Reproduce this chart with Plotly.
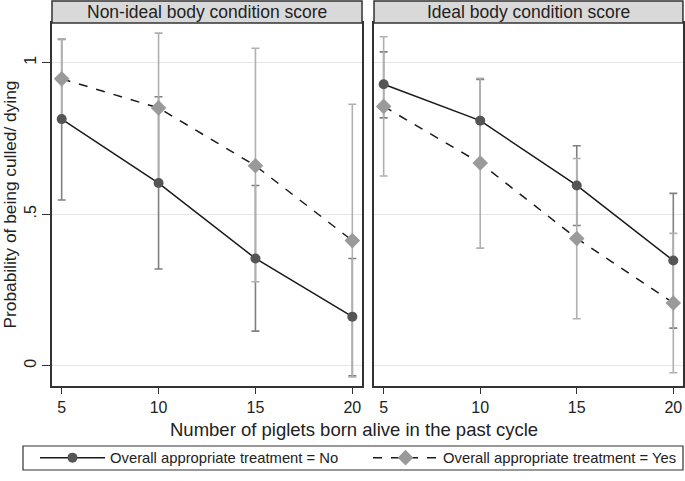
import plotly.graph_objects as go

x_vals = [5, 10, 15, 20]
panels = ["Non-ideal body condition score", "Ideal body condition score"]

# Non-ideal BCS
no_nonideal = [0.814, 0.603, 0.354, 0.162]
no_nonideal_lo = [0.547, 0.319, 0.114, -0.033]
no_nonideal_hi = [1.077, 0.888, 0.595, 0.354]
yes_nonideal = [0.947, 0.851, 0.660, 0.413]
yes_nonideal_lo = [0.815, 0.604, 0.277, -0.037]
yes_nonideal_hi = [1.079, 1.098, 1.048, 0.863]

# Ideal BCS
no_ideal = [0.929, 0.809, 0.595, 0.347]
no_ideal_lo = [0.818, 0.672, 0.463, 0.124]
no_ideal_hi = [1.036, 0.945, 0.726, 0.569]
yes_ideal = [0.856, 0.669, 0.420, 0.207]
yes_ideal_lo = [0.626, 0.388, 0.155, -0.023]
yes_ideal_hi = [1.086, 0.949, 0.684, 0.437]

y_tickvals = [0, 0.5, 1]
y_ticktext = ["0", ".5", "1"]
x_tickvals = [5, 10, 15, 20]

series_names = ["Overall appropriate treatment = No", "Overall appropriate treatment = Yes"]

FONT = "Liberation Sans, Arial, sans-serif"
NO_MARK = "#555555"
YES_MARK = "#9a9a9a"
NO_CI = "#808080"
YES_CI = "#b0b0b0"
LINE = "#1a1a1a"
TXT = "#222222"

fig = go.Figure()

data = [
    ("x", "y", no_nonideal, no_nonideal_lo, no_nonideal_hi, yes_nonideal, yes_nonideal_lo, yes_nonideal_hi),
    ("x2", "y2", no_ideal, no_ideal_lo, no_ideal_hi, yes_ideal, yes_ideal_lo, yes_ideal_hi),
]

for i, (xa, ya, no, nlo, nhi, yes, ylo, yhi) in enumerate(data):
    # CI bars (No first, then Yes on top)
    for vals, lo, hi, col in [(no, nlo, nhi, NO_CI), (yes, ylo, yhi, YES_CI)]:
        fig.add_trace(go.Scatter(
            x=x_vals, y=vals, mode="markers", xaxis=xa, yaxis=ya,
            marker=dict(size=1, opacity=0),
            error_y=dict(type="data", symmetric=False,
                         array=[h - v for h, v in zip(hi, vals)],
                         arrayminus=[v - l for v, l in zip(vals, lo)],
                         color=col, thickness=1.6, width=4),
            showlegend=False, hoverinfo="skip"))
    fig.add_trace(go.Scatter(
        x=x_vals, y=no, mode="lines+markers", xaxis=xa, yaxis=ya,
        line=dict(color=LINE, width=1.5),
        marker=dict(symbol="circle", size=10, color=NO_MARK),
        name=series_names[0], showlegend=(i == 0), legend="legend"))
    fig.add_trace(go.Scatter(
        x=x_vals, y=yes, mode="lines+markers", xaxis=xa, yaxis=ya,
        line=dict(color=LINE, width=1.5, dash="dash"),
        marker=dict(symbol="diamond", size=12, color=YES_MARK),
        name=series_names[1], showlegend=(i == 0), legend="legend2"))

axis_common = dict(
    range=[4.5, 20.5], tickvals=x_tickvals, ticks="outside", ticklen=6,
    tickcolor="#333333", tickwidth=1, showline=True, linecolor="#333333",
    linewidth=1.5, mirror=True, showgrid=False, zeroline=False,
    tickfont=dict(family=FONT, size=16, color=TXT),
)
yaxis_common = dict(
    range=[-0.067, 1.131], tickvals=y_tickvals, showline=True,
    linecolor="#333333", linewidth=1.5, mirror=True, showgrid=True,
    gridcolor="#e6e6e6", gridwidth=1, zeroline=False,
    domain=[0.1975, 0.952],
)

legend_common = dict(orientation="h", xanchor="left", y=0.0478, yanchor="middle",
                     font=dict(family=FONT, size=14.8, color=TXT),
                     bgcolor="rgba(0,0,0,0)", itemwidth=65)

fig.update_layout(
    width=685, height=481,
    margin=dict(l=0, r=0, t=0, b=0),
    paper_bgcolor="white", plot_bgcolor="white",
    font=dict(family=FONT, color=TXT),
    xaxis=dict(domain=[0.0759, 0.5285], **axis_common),
    xaxis2=dict(domain=[0.546, 0.997], anchor="y2", **axis_common),
    yaxis=dict(anchor="x", ticks="outside", ticklen=8, tickcolor="#333333",
               ticktext=y_ticktext, tickangle=-90,
               tickfont=dict(family=FONT, size=16, color=TXT),
               title=dict(text="Probability of being culled/ dying",
                          font=dict(family=FONT, size=17.3, color=TXT), standoff=8),
               **yaxis_common),
    yaxis2=dict(anchor="x2", showticklabels=False, ticks="", **yaxis_common),
    legend=dict(x=35/685, **legend_common),
    legend2=dict(x=368/685, **legend_common),
    showlegend=True,
)

# strips
for xa, ya, title in [("x", "y", panels[0]), ("x2", "y2", panels[1])]:
    fig.add_shape(type="rect", xref=f"{xa} domain", yref=f"{ya} domain",
                  x0=0, x1=1, y0=1.0, y1=1.0606, fillcolor="#d9d9d9",
                  line=dict(color="#333333", width=1.5), layer="above")
    fig.add_annotation(text=title, xref=f"{xa} domain", yref=f"{ya} domain",
                       x=0.5, y=1.0303, showarrow=False, xanchor="center", yanchor="middle",
                       font=dict(family=FONT, size=17.5, color=TXT))

# x title
fig.add_annotation(text="Number of piglets born alive in the past cycle",
                   xref="paper", yref="paper", x=354/685, y=(481-430)/481,
                   showarrow=False, xanchor="center", yanchor="middle",
                   font=dict(family=FONT, size=18.5, color=TXT))

# legend frame
fig.add_shape(type="rect", xref="paper", yref="paper",
              x0=23/685, x1=683/685, y0=(481-470)/481, y1=(481-446)/481,
              line=dict(color="#333333", width=1.2), fillcolor="rgba(0,0,0,0)")

fig.write_html("out.html", config={"displayModeBar": False},
               post_script="document.body.style.margin='0';document.body.style.padding='0';")
